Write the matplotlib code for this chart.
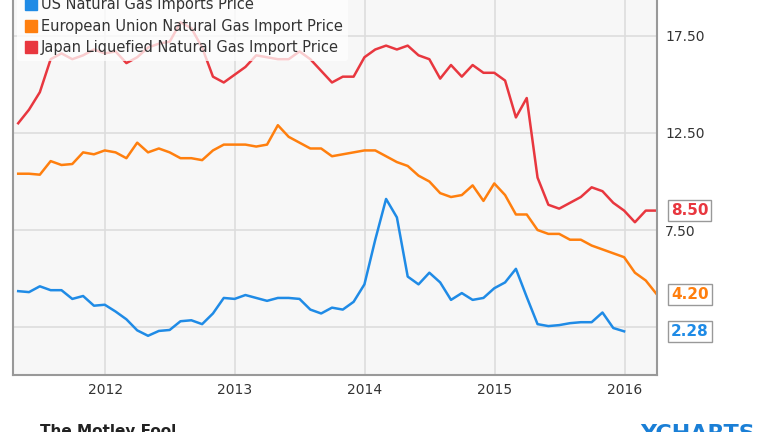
import matplotlib
matplotlib.use("Agg")
import matplotlib.pyplot as plt
import numpy as np

# monthly series, starting April 2011
start_year = 2011.33
us_price = [4.35, 4.3, 4.6, 4.4, 4.4, 3.95, 4.1, 3.6, 3.65, 3.3, 2.9, 2.33, 2.05, 2.3,
            2.35, 2.8, 2.85, 2.65, 3.2, 4.0, 3.95, 4.15, 4.0, 3.85, 4.0, 4.0, 3.95, 3.4,
            3.2, 3.5, 3.4, 3.8, 4.7, 7.0, 9.1, 8.15, 5.1, 4.7, 5.3, 4.8, 3.9, 4.25, 3.9,
            4.0, 4.5, 4.8, 5.5, 4.05, 2.65, 2.55, 2.6, 2.7, 2.75, 2.75, 3.25, 2.45, 2.28]
eu_price = [10.4, 10.4, 10.35, 11.05, 10.85, 10.9, 11.5, 11.4, 11.6, 11.5, 11.2, 12.0,
            11.5, 11.7, 11.5, 11.2, 11.2, 11.1, 11.6, 11.9, 11.9, 11.9, 11.8, 11.9, 12.9,
            12.3, 12.0, 11.7, 11.7, 11.3, 11.4, 11.5, 11.6, 11.6, 11.3, 11.0, 10.8, 10.3,
            10.0, 9.4, 9.2, 9.3, 9.8, 9.0, 9.9, 9.3, 8.3, 8.3, 7.5, 7.3, 7.3, 7.0, 7.0,
            6.7, 6.5, 6.3, 6.1, 5.3, 4.9, 4.2]
japan_price = [13.0, 13.7, 14.6, 16.3, 16.6, 16.3, 16.5, 16.8, 16.6, 16.7, 16.1, 16.4,
               16.9, 17.1, 17.2, 18.2, 17.9, 16.9, 15.4, 15.1, 15.5, 15.9, 16.5, 16.4,
               16.3, 16.3, 16.7, 16.3, 15.7, 15.1, 15.4, 15.4, 16.4, 16.8, 17.0, 16.8,
               17.0, 16.5, 16.3, 15.3, 16.0, 15.4, 16.0, 15.6, 15.6, 15.2, 13.3, 14.3,
               10.2, 8.8, 8.6, 8.9, 9.2, 9.7, 9.5, 8.9, 8.5, 7.9, 8.5, 8.5]
series_names = ["US Natural Gas Imports Price",
                "European Union Natural Gas Import Price",
                "Japan Liquefied Natural Gas Import Price"]
series_colors = ["#1f8be6", "#ff7f0e", "#e8373f"]
end_labels = ["2.28", "4.20", "8.50"]
y_ticks = [7.5, 12.5, 17.5]
x_ticks = [2012, 2013, 2014, 2015, 2016]

fig = plt.figure(figsize=(7.64, 4.32), dpi=100)
ax = fig.add_axes([13 / 764, 57 / 432, 644 / 764, 375 / 432])
ax.set_facecolor("#f7f7f7")

all_series = [us_price, eu_price, japan_price]
for values, name, color in zip(all_series, series_names, series_colors):
    x = start_year + np.arange(len(values)) / 12
    ax.plot(x, values, color=color, lw=1.8, label=name)

ax.set_xlim(2011.29, 2016.25)
ax.set_ylim(0.03, 19.35)
ax.set_xticks(x_ticks)
ax.set_xticklabels([str(t) for t in x_ticks], fontsize=10, color="#333333")
ax.set_yticks(y_ticks + [2.5])
ax.yaxis.tick_right()
ax.set_yticklabels(["%.2f" % t for t in y_ticks] + [""], fontsize=10, color="#333333")
ax.tick_params(length=0, pad=6)
ax.grid(color="#dddddd", lw=1.2)
ax.spines["top"].set_visible(False)
for side in ["left", "right", "bottom"]:
    ax.spines[side].set_color("#999999")
    ax.spines[side].set_linewidth(1.5)

# end-of-series value tags
for values, color, label in zip(all_series, series_colors, end_labels):
    ax.annotate(label, xy=(1.0, values[-1]), xycoords=("axes fraction", "data"),
                xytext=(10, 0), textcoords="offset points", va="center", ha="left",
                fontsize=11, fontweight="bold", color=color,
                bbox=dict(boxstyle="square,pad=0.2", fc="white", ec="#999999", lw=1))

handles = [plt.Line2D([], [], marker="s", ls="", color=c, markersize=8) for c in series_colors]
leg = ax.legend(handles, series_names, loc="upper left", bbox_to_anchor=(0.0, 1.035),
                fontsize=10.5, frameon=True, handletextpad=0.2, labelspacing=0.45,
                borderaxespad=0.3, handlelength=1.0)
leg.get_frame().set_facecolor("white")
leg.get_frame().set_alpha(0.75)
leg.get_frame().set_edgecolor("none")
for t in leg.get_texts():
    t.set_color("#333333")

fig.text(40 / 764, -4 / 432, "The Motley Fool", fontsize=11, fontweight="bold", color="#222222")
fig.text(640 / 764, -8 / 432, "YCHARTS", fontsize=16, fontweight="bold", color="#1a7fd6")

fig.savefig("out.png", dpi=100)
